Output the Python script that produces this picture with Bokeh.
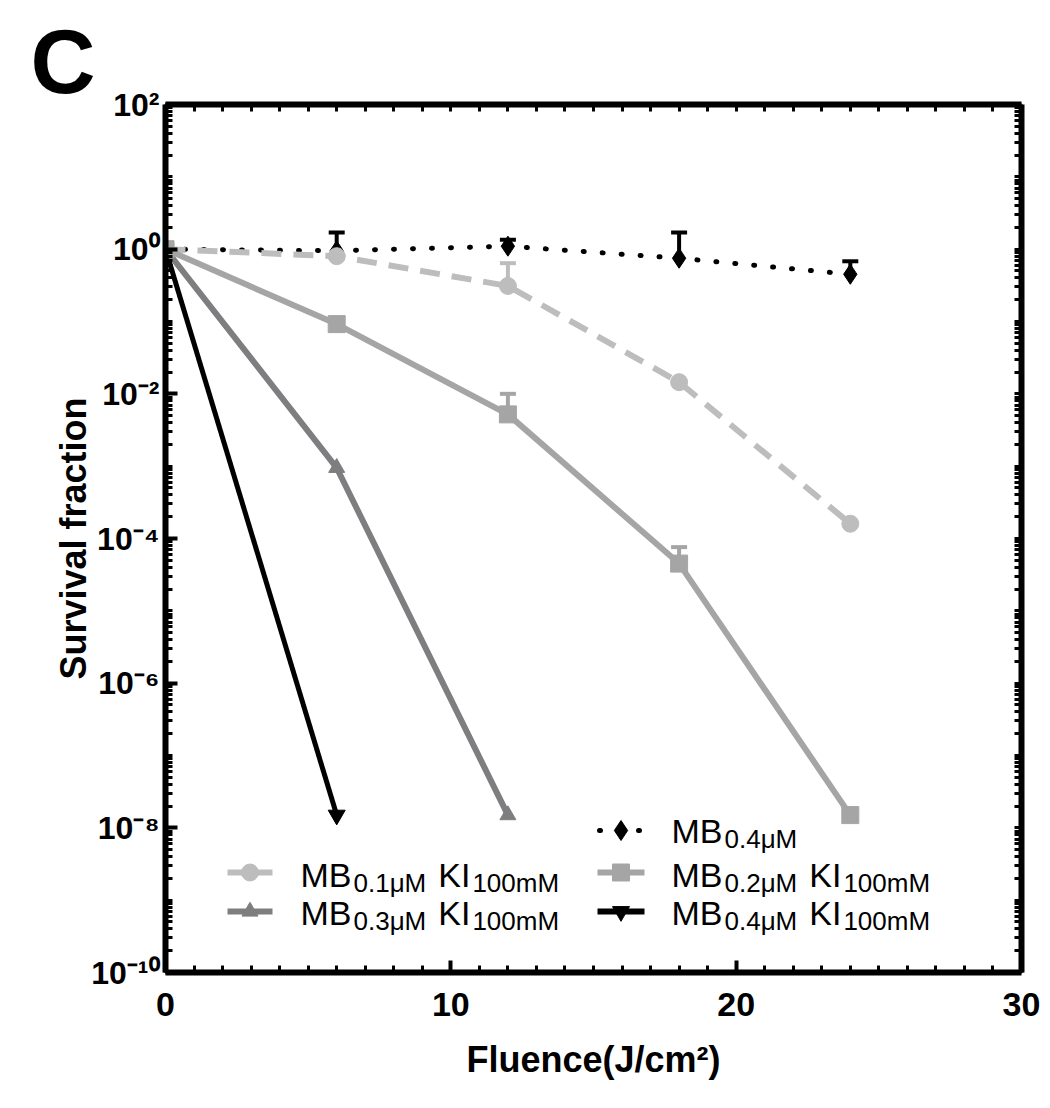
from bokeh.plotting import figure
from bokeh.models import (Range1d, FixedTicker, LinearAxis, LogAxis, Label,
                          Whisker, TeeHead, ColumnDataSource)
from bokeh.embed import file_html
from bokeh.resources import INLINE

# ---------------- data ----------------
fluence = [0, 6, 12, 18, 24]

mb04 = [1.0, 0.95, 1.1, 0.75, 0.45]
mb04_err_x = [6, 12, 18, 24]
mb04_err_lo = [0.95, 1.1, 0.75, 0.45]
mb04_err_hi = [1.7, 1.35, 1.7, 0.68]

mb01_ki = [1.0, 0.8, 0.31, 0.0145, 1.6e-4]
mb01_err_x = [12]
mb01_err_lo = [0.31]
mb01_err_hi = [0.64]

mb02_ki = [1.0, 0.092, 5.2e-3, 4.5e-5, 1.5e-8]
mb02_err_x = [12, 18]
mb02_err_lo = [5.2e-3, 4.5e-5]
mb02_err_hi = [1.0e-2, 7.6e-5]

fluence_mb03 = [0, 6, 12]
mb03_ki = [1.0, 9.5e-4, 1.5e-8]

fluence_mb04ki = [0, 6]
mb04_ki = [1.0, 1.5e-8]

x_ticks = [0, 10, 20, 30]
x_minor = list(range(0, 31))
y_ticks = [1e-10, 1e-8, 1e-6, 1e-4, 1e-2, 1.0, 1e2]
y_tick_labels = ["10⁻¹⁰", "10⁻⁸", "10⁻⁶", "10⁻⁴", "10⁻²", "10⁰", "10²"]
y_minor = [k * 10.0 ** d for d in range(-10, 2) for k in range(1, 10)] + [1e2]

c_mb01 = "#BDBDBD"
c_mb02 = "#A5A5A5"
c_mb03 = "#7E7E80"
c_blk = "#000000"

FONT = "Liberation Sans"

# ---------------- figure ----------------
W, H = 1042, 1100
FL, FR, FT, FB = 165, 1021, 104, 972  # frame edges in figure px

p = figure(width=W, height=H, x_range=Range1d(0, 30), y_range=Range1d(1e-10, 1e2),
           y_axis_type="log", output_backend="svg", toolbar_location=None,
           min_border_left=FL, min_border_right=W - FR, min_border_top=FT,
           min_border_bottom=H - FB, background_fill_color="white",
           border_fill_color="white", title="C")
p.grid.visible = False
p.outline_line_color = None
p.title.text_font = FONT
p.title.text_font_style = "bold"
p.title.text_font_size = "90px"
p.title.align = "left"
p.title.offset = 30 - FL
p.title.standoff = -14
p.title.text_color = "black"


def style_axis(ax, labels=True):
    ax.axis_line_width = 6
    ax.axis_line_color = "black"
    ax.major_tick_line_width = 4
    ax.minor_tick_line_width = 3
    ax.major_tick_in = 12
    ax.major_tick_out = 0
    ax.minor_tick_in = 7
    ax.minor_tick_out = 0
    ax.major_tick_line_color = "black"
    ax.minor_tick_line_color = "black"
    if labels:
        ax.major_label_text_font = FONT
        ax.major_label_text_font_style = "bold"
        ax.major_label_text_font_size = "32px"
        ax.major_label_text_color = "black"
        ax.axis_label_text_font = FONT
        ax.axis_label_text_font_style = "bold"
        ax.axis_label_text_font_size = "36px"
        ax.axis_label_text_color = "black"
    else:
        ax.major_label_standoff = 0
        ax.axis_label_standoff = 0


xa = p.xaxis[0]
xa.ticker = FixedTicker(ticks=x_ticks, minor_ticks=x_minor)
style_axis(xa)
xa.major_label_text_font_size = "34px"
xa.axis_label = "Fluence(J/cm²)"
xa.major_label_standoff = 20
xa.axis_label_standoff = 20

ya = p.yaxis[0]
ya.ticker = FixedTicker(ticks=y_ticks, minor_ticks=y_minor)
style_axis(ya)
ya.major_label_overrides = {t: s for t, s in zip(y_ticks, y_tick_labels)}
ya.axis_label = "Survival fraction"
ya.major_label_standoff = 6
ya.axis_label_standoff = -6

# mirrored axes on top / right: tick marks only (no major ticks -> no labels)
top = LinearAxis(ticker=FixedTicker(ticks=[], minor_ticks=x_minor))
style_axis(top, labels=False)
p.add_layout(top, "above")

right = LogAxis(ticker=FixedTicker(ticks=[], minor_ticks=y_minor))
style_axis(right, labels=False)
p.add_layout(right, "right")

# ---------------- error bars ----------------
def add_err(xs, lo, hi, color):
    src = ColumnDataSource(dict(x=xs, lo=lo, hi=hi))
    p.add_layout(Whisker(source=src, base="x", lower="lo", upper="hi", dimension="height",
                         line_color=color, line_width=4, lower_head=None,
                         upper_head=TeeHead(size=16, line_width=4, line_color=color)))

add_err(mb04_err_x, mb04_err_lo, mb04_err_hi, c_blk)
add_err(mb01_err_x, mb01_err_lo, mb01_err_hi, c_mb01)
add_err(mb02_err_x, mb02_err_lo, mb02_err_hi, c_mb02)

# ---------------- series ----------------
p.line(fluence, mb04, line_color=c_blk, line_width=5, line_dash="1 18", line_cap="round")
p.scatter(fluence, mb04, marker="diamond", size=20, color=c_blk)

p.line(fluence_mb04ki, mb04_ki, line_color=c_blk, line_width=5)
p.scatter(fluence_mb04ki, mb04_ki, marker="inverted_triangle", size=17, color=c_blk)

p.line(fluence_mb03, mb03_ki, line_color=c_mb03, line_width=6)
p.scatter(fluence_mb03, mb03_ki, marker="triangle", size=16, color=c_mb03)

p.line(fluence, mb01_ki, line_color=c_mb01, line_width=6, line_dash="20 12")
p.scatter(fluence, mb01_ki, marker="circle", size=17, color=c_mb01)

p.line(fluence, mb02_ki, line_color=c_mb02, line_width=6)
p.scatter(fluence, mb02_ki, marker="square", size=17, color=c_mb02)

# ---------------- legend (manual, with subscripts) ----------------
def px2x(px):
    return (px - FL) / (FR - FL) * 30.0


def py2y(py):
    return 10.0 ** (2.0 - (py - FT) / (FB - FT) * 12.0)


CW = {'M': .833, 'B': .667, 'K': .667, 'I': .278, '0': .556, '1': .556, '2': .556,
      '3': .556, '4': .556, '.': .278, 'μ': .576, 'm': .833, ' ': .278}
MAIN, SUB = 34, 26


def rich(x_px, base_px, parts):
    x = x_px
    for txt, sub in parts:
        size = SUB if sub else MAIN
        b = base_px + (8 if sub else 0)
        p.add_layout(Label(x=px2x(x), y=py2y(b), text=txt, text_font=FONT,
                           text_font_size=f"{size}px", text_baseline="alphabetic",
                           text_align="left", text_color="black"))
        x += sum(CW[c] for c in txt) * size + (12 if sub else 2)


legend_entries = [
    # (label parts, column, row, color, marker, style)
    ([("MB", False), ("0.4μM", True)], 1, 0, c_blk, "diamond", "dots"),
    ([("MB", False), ("0.1μM", True), ("KI", False), ("100mM", True)], 0, 1, c_mb01, "circle", "solid"),
    ([("MB", False), ("0.2μM", True), ("KI", False), ("100mM", True)], 1, 1, c_mb02, "square", "solid"),
    ([("MB", False), ("0.3μM", True), ("KI", False), ("100mM", True)], 0, 2, c_mb03, "triangle", "solid"),
    ([("MB", False), ("0.4μM", True), ("KI", False), ("100mM", True)], 1, 2, c_blk, "inverted_triangle", "solid"),
]
col_line = [(227, 272), (597, 644)]
col_text = [300, 671]
row_mid = [830, 872, 911]
row_base = [830, 874, 912]
msize = {"diamond": 20, "circle": 17, "square": 17, "triangle": 16, "inverted_triangle": 17}

for parts, col, row, color, marker, style in legend_entries:
    x0, x1 = col_line[col]
    ym = py2y(row_mid[row])
    if style == "dots":
        p.line([px2x(599), px2x(639)], [ym, ym], line_color=color, line_width=5,
               line_dash="1 38", line_cap="round")
    else:
        p.line([px2x(x0), px2x(x1)], [ym, ym], line_color=color, line_width=6)
    p.scatter([px2x((x0 + x1) / 2)], [ym], marker=marker, size=msize[marker], color=color)
    rich(col_text[col], row_base[row], parts)

open("out.html", "w").write(file_html(p, INLINE))
